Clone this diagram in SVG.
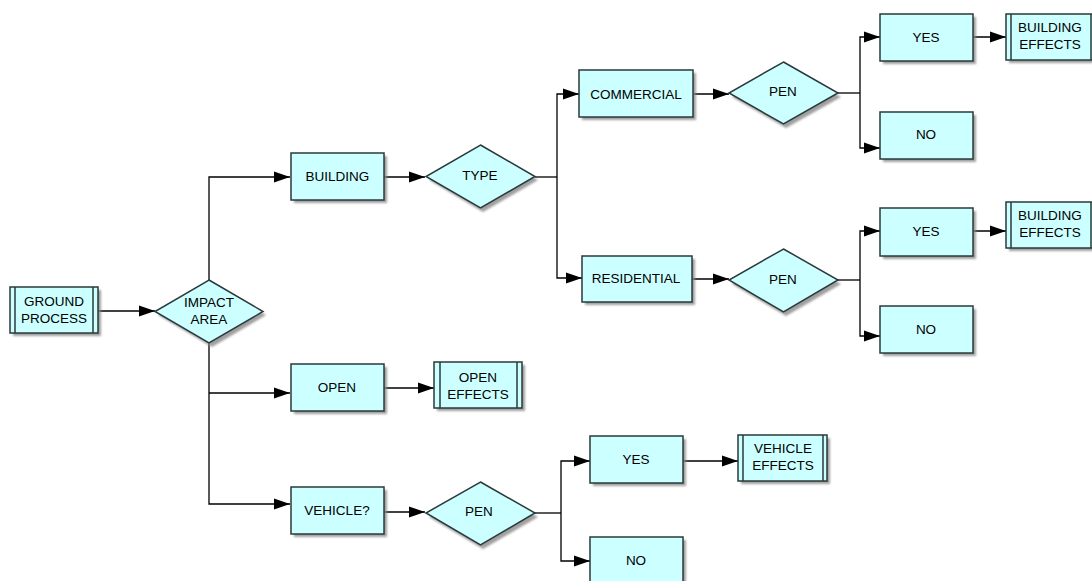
<svg xmlns="http://www.w3.org/2000/svg" width="1092" height="581" viewBox="0 0 1092 581">
<defs>
<marker id="ah" markerUnits="userSpaceOnUse" markerWidth="16" markerHeight="12" refX="16" refY="6" orient="auto">
<path d="M0,0.5 L16,6 L0,11.5 z" fill="#000"/>
</marker>
<filter id="sh" x="-10%" y="-10%" width="130%" height="130%">
<feGaussianBlur stdDeviation="1"/>
</filter>
</defs>
<style>
.b{fill:#ccffff;stroke:#2a3a3a;stroke-width:1.5}
.s{fill:#888;opacity:0.8;filter:url(#sh)}
.l{stroke:#2a3a3a;stroke-width:1.5}
.c{fill:none;stroke:#000;stroke-width:1.3;marker-end:url(#ah)}
.cn{fill:none;stroke:#000;stroke-width:1.3}
text{font-family:"Liberation Sans",Arial,sans-serif;font-size:13.5px;fill:#000;text-anchor:middle;dominant-baseline:central}
</style>
<rect width="1092" height="581" fill="#fff"/>
<g id="connectors">
<path class="c" d="M98,311 H155"/>
<path class="c" d="M209,280 V177 H290"/>
<path class="c" d="M209,343 V504 H290"/>
<path class="c" d="M209,393 H290"/>
<path class="c" d="M384,177 H425"/>
<path class="cn" d="M535,177 H557"/>
<path class="c" d="M557,177 V94 H579"/>
<path class="c" d="M557,177 V278 H582"/>
<path class="c" d="M693,94 H729"/>
<path class="cn" d="M838,93 H860"/>
<path class="c" d="M860,93 V37 H880"/>
<path class="c" d="M860,93 V148 H880"/>
<path class="c" d="M973,37 H1006"/>
<path class="c" d="M692,279 H729"/>
<path class="cn" d="M838,280 H860"/>
<path class="c" d="M860,280 V231 H880"/>
<path class="c" d="M860,280 V336 H880"/>
<path class="c" d="M973,231 H1006"/>
<path class="c" d="M384,388 H434"/>
<path class="c" d="M384,512 H425"/>
<path class="cn" d="M535,513 H561"/>
<path class="c" d="M561,513 V461 H590"/>
<path class="c" d="M561,513 V561 H590"/>
<path class="c" d="M683,461 H738"/>
</g>
<g id="ground-process">
<rect class="s" x="13" y="290" width="88" height="46"/>
<rect class="b" x="10" y="287" width="88" height="46"/>
<line class="l" x1="15" y1="287" x2="15" y2="333"/>
<line class="l" x1="93" y1="287" x2="93" y2="333"/>
<text x="54" y="301">GROUND</text>
<text x="54" y="318">PROCESS</text>
</g>
<g id="impact-area">
<polygon class="s" points="212,284 266,315 212,347 158,315"/>
<polygon class="b" points="209,280 263,311.5 209,343 155,311.5"/>
<text x="209" y="302">IMPACT</text>
<text x="209" y="319">AREA</text>
</g>
<g id="building">
<rect class="s" x="294" y="156" width="93" height="47"/>
<rect class="b" x="291" y="153" width="93" height="47"/>
<text x="337.5" y="176">BUILDING</text>
</g>
<g id="type">
<polygon class="s" points="483,149 538,180 483,212 429,180"/>
<polygon class="b" points="480.5,145 535,176.5 480.5,208 426,176.5"/>
<text x="480" y="175">TYPE</text>
</g>
<g id="commercial">
<rect class="s" x="582" y="73" width="114" height="47"/>
<rect class="b" x="579" y="70" width="114" height="47"/>
<text x="636" y="94">COMMERCIAL</text>
</g>
<g id="pen-commercial">
<polygon class="s" points="786,66 841,97 786,128 732,97"/>
<polygon class="b" points="783.5,62 838,93 783.5,124 729,93"/>
<text x="783" y="91">PEN</text>
</g>
<g id="yes-commercial">
<rect class="s" x="883" y="17" width="93" height="47"/>
<rect class="b" x="880" y="14" width="93" height="47"/>
<text x="926" y="37">YES</text>
</g>
<g id="building-effects-1">
<rect class="s" x="1009" y="17" width="90" height="46"/>
<rect class="b" x="1006" y="14" width="90" height="46"/>
<line class="l" x1="1011" y1="14" x2="1011" y2="60"/>
<line class="l" x1="1091" y1="14" x2="1091" y2="60"/>
<text x="1050" y="27">BUILDING</text>
<text x="1050" y="44">EFFECTS</text>
</g>
<g id="no-commercial">
<rect class="s" x="883" y="115" width="93" height="47"/>
<rect class="b" x="880" y="112" width="93" height="47"/>
<text x="926" y="134">NO</text>
</g>
<g id="residential">
<rect class="s" x="585" y="259" width="110" height="46"/>
<rect class="b" x="582" y="256" width="110" height="46"/>
<text x="636" y="278">RESIDENTIAL</text>
</g>
<g id="pen-residential">
<polygon class="s" points="786,253 841,284 786,316 732,284"/>
<polygon class="b" points="783.5,249 838,280 783.5,312 729,280"/>
<text x="783" y="279">PEN</text>
</g>
<g id="yes-residential">
<rect class="s" x="883" y="211" width="93" height="48"/>
<rect class="b" x="880" y="208" width="93" height="48"/>
<text x="926" y="231">YES</text>
</g>
<g id="building-effects-2">
<rect class="s" x="1009" y="205" width="90" height="46"/>
<rect class="b" x="1006" y="202" width="90" height="46"/>
<line class="l" x1="1011" y1="202" x2="1011" y2="248"/>
<line class="l" x1="1091" y1="202" x2="1091" y2="248"/>
<text x="1050" y="215">BUILDING</text>
<text x="1050" y="232">EFFECTS</text>
</g>
<g id="no-residential">
<rect class="s" x="883" y="309" width="93" height="47"/>
<rect class="b" x="880" y="306" width="93" height="47"/>
<text x="926" y="329">NO</text>
</g>
<g id="open">
<rect class="s" x="294" y="367" width="93" height="47"/>
<rect class="b" x="291" y="364" width="93" height="47"/>
<text x="337" y="387">OPEN</text>
</g>
<g id="open-effects">
<rect class="s" x="437" y="365" width="88" height="46"/>
<rect class="b" x="434" y="362" width="88" height="46"/>
<line class="l" x1="440" y1="362" x2="440" y2="408"/>
<line class="l" x1="517" y1="362" x2="517" y2="408"/>
<text x="478" y="377">OPEN</text>
<text x="478" y="394">EFFECTS</text>
</g>
<g id="vehicle">
<rect class="s" x="294" y="490" width="93" height="47"/>
<rect class="b" x="291" y="487" width="93" height="47"/>
<text x="337" y="510">VEHICLE?</text>
</g>
<g id="pen-vehicle">
<polygon class="s" points="483,486 538,517 483,549 429,517"/>
<polygon class="b" points="480.5,482 535,513 480.5,545 426,513"/>
<text x="479" y="511">PEN</text>
</g>
<g id="yes-vehicle">
<rect class="s" x="593" y="439" width="93" height="47"/>
<rect class="b" x="590" y="436" width="93" height="47"/>
<text x="636" y="459">YES</text>
</g>
<g id="vehicle-effects">
<rect class="s" x="741" y="438" width="89" height="46"/>
<rect class="b" x="738" y="435" width="89" height="46"/>
<line class="l" x1="743" y1="435" x2="743" y2="481"/>
<line class="l" x1="823" y1="435" x2="823" y2="481"/>
<text x="783" y="448">VEHICLE</text>
<text x="783" y="465">EFFECTS</text>
</g>
<g id="no-vehicle">
<rect class="s" x="593" y="540" width="93" height="47"/>
<rect class="b" x="590" y="537" width="93" height="47"/>
<text x="636" y="560">NO</text>
</g>
</svg>
